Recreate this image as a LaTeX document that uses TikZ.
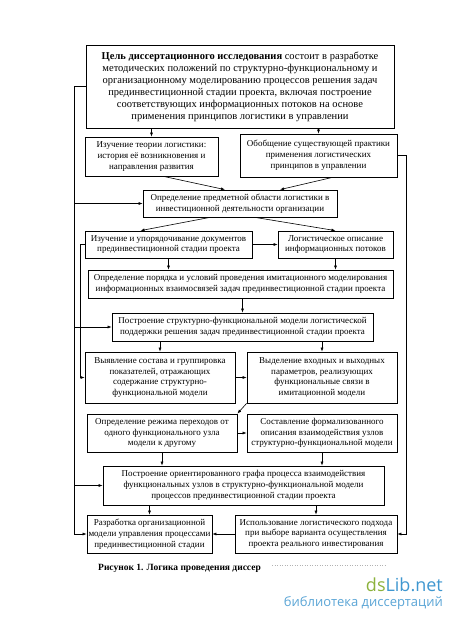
\documentclass[tikz,border=0pt]{standalone}
\usepackage{fontspec}
\setmainfont{Liberation Serif}
\newfontfamily\wmfont{Open Sans}
\usetikzlibrary{arrows.meta,calc}
\definecolor{wmgreen}{HTML}{8CB23C}
\definecolor{wmblue}{HTML}{3F97D0}
\definecolor{wmblue2}{HTML}{5AA5D6}
\tikzset{
  box/.style={draw, line width=0.75pt, align=center, inner sep=1pt,
    font=\fontsize{9}{10.8}\selectfont},
  conn/.style={line width=0.6pt, -{Latex[length=4pt,width=3pt]}},
  plain/.style={line width=0.6pt}
}
\begin{document}
\begin{tikzpicture}[x=1pt,y=-1pt]
\fill[white] (0,0) rectangle (450,617);
\useasboundingbox (0,0) rectangle (450,617);

\node[box, minimum width=308pt, minimum height=83pt, font=\fontsize{10.5}{12}\selectfont] (top) at (240,86.5) {\textbf{Цель диссертационного исследования} состоит в разработке\\
методических положений по структурно-функциональному и\\
организационному моделированию процессов решения задач\\
прединвестиционной стадии проекта, включая построение\\
соответствующих информационных потоков на основе\\
применения принципов логистики в управлении};

\node[box, minimum width=133pt, minimum height=39pt] (l1) at (151.5,156.5) {Изучение теории логистики:\\ история её возникновения и\\ направления развития};
\node[box, minimum width=157pt, minimum height=43pt] (r1) at (318.5,155.5) {Обобщение существующей практики\\ применения логистических\\ принципов в управлении};
\node[box, minimum width=194pt, minimum height=27pt] (opr) at (240,203.5) {Определение предметной области логистики в\\ инвестиционной деятельности организации};
\node[box, minimum width=167pt, minimum height=27pt] (izu) at (168.5,244.5) {Изучение и упорядочивание документов\\ прединвестиционной стадии проекта};
\node[box, minimum width=115pt, minimum height=27pt] (log) at (335.5,244.5) {Логистическое описание\\ информационных потоков};
\node[box, minimum width=305pt, minimum height=28pt] (por) at (240.5,284) {Определение порядка и условий проведения имитационного моделирования\\ информационных взаимосвязей задач прединвестиционной стадии проекта};
\node[box, minimum width=261pt, minimum height=28pt] (pos) at (242.5,327) {Построение структурно-функциональной модели логистической\\ поддержки решения задач прединвестиционной стадии проекта};
\node[box, minimum width=150pt, minimum height=51pt] (vyy) at (160,377.5) {Выявление состава и группировка\\ показателей, отражающих\\ содержание структурно-\\ функциональной модели};
\node[box, minimum width=150pt, minimum height=51pt] (vyd) at (322,377.5) {Выделение входных и выходных\\ параметров, реализующих\\ функциональные связи в\\ имитационной модели};
\node[box, minimum width=150pt, minimum height=38pt] (rez) at (162,433) {Определение режима переходов от\\ одного функционального узла\\ модели к другому};
\node[box, minimum width=150pt, minimum height=38pt] (sos) at (322,433) {Составление формализованного\\ описания взаимодействия узлов\\ структурно-функциональной модели};
\node[box, minimum width=281pt, minimum height=39pt] (gra) at (243.5,485.5) {Построение ориентированного графа процесса взаимодействия\\ функциональных узлов в структурно-функциональной модели\\ процессов прединвестиционной стадии проекта};
\node[box, minimum width=125pt, minimum height=38pt] (raz) at (149.5,534) {Разработка организационной\\ модели управления процессами\\ прединвестиционной стадии};
\node[box, minimum width=162pt, minimum height=38pt] (isp) at (316,534) {Использование логистического подхода\\ при выборе варианта осуществления\\ проекта реального инвестирования};

% guide coordinates
\coordinate (lo) at (74,0);
\coordinate (li) at (80,0);
\coordinate (ro) at (406,0);

% outer left line
\draw[conn] (top.west) -| (raz.west -| lo) -- (raz.west);
\draw[conn] (opr.west -| lo) -- (opr.west);
\draw[conn] (pos.west -| lo) -- (pos.west);
\draw[conn] (gra.west -| lo) -- (gra.west);
% inner left line
\draw[conn] (izu.west) -| (vyy.west -| li) -- (vyy.west);
% right line
\draw[conn] (r1.east) -| (isp.east -| ro) -- (isp.east);

% vertical / slanted arrows
\draw[conn] (l1.north |- top.south) -- (l1.north);
\draw[conn] (r1.north |- top.south) -- (r1.north);
\draw[conn] ($(l1.south)+(12,0)$) -- ($(opr.north)+(-15,0)$);
\draw[conn] ($(r1.south)+(14,0)$) -- ($(opr.north)+(40,0)$);
\draw[conn] ($(opr.south)+(-30,0)$) -- ($(izu.north)+(-28,0)$);
\draw[conn] ($(opr.south)+(15,0)$) -- (log.north);
\draw[conn] (izu.east) -- (log.west);
\draw[conn] (izu.south) -- (izu.south |- por.north);
\draw[conn] (log.south) -- (log.south |- por.north);
\draw[conn] (pos.north |- por.south) -- (pos.north);
\draw[conn] (vyy.north |- pos.south) -- (vyy.north);
\draw[conn] (vyd.north |- pos.south) -- (vyd.north);
\draw[conn] (vyy.east) -- (vyd.west);
\draw[conn] (vyd.south west) -- (rez.north east);
\draw[conn] (rez.east) -- (sos.west);
\draw[conn] (rez.south) -- (rez.south |- gra.north);
\draw[conn] (sos.south) -- (sos.south |- gra.north);
\draw[conn] (raz.north |- gra.south) -- (raz.north);
\draw[conn] (isp.north |- gra.south) -- (isp.north);
\draw[conn] (isp.west) -- (raz.east);

% caption
\node[anchor=west, inner sep=0pt, font=\fontsize{9.5}{11}\selectfont\bfseries] (cap) at (98,568) {Рисунок 1. Логика проведения диссер};
\coordinate (d1) at (272,565);
\coordinate (d2) at (386,565);
\draw[gray!60, line width=0.5pt, dotted] (d1) -- (d2);

% watermark
\node[anchor=east, inner sep=0pt, font=\wmfont\fontsize{18}{20}\selectfont] (wm1) at (443,585) {\textcolor{wmgreen}{ds}\textcolor{wmblue}{Lib.net}};
\node[anchor=east, inner sep=0pt, font=\wmfont\fontsize{13}{15}\selectfont, text=wmblue2] (wm2) at (443,603) {библиотека диссертаций};
\end{tikzpicture}
\end{document}
